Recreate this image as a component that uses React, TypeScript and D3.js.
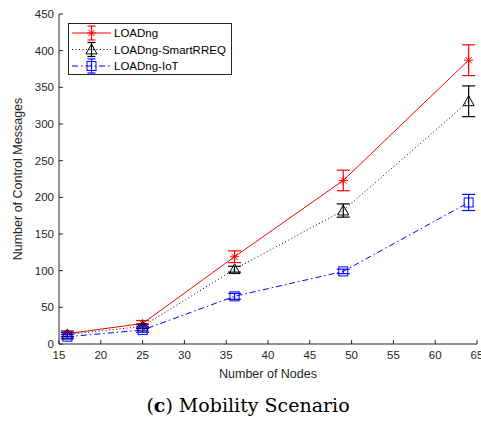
import React from 'react'
import * as d3 from 'd3'

const nodes = [16, 25, 36, 49, 64]
const loadng = [14, 28, 119, 223, 387]
const loadngErr = [4, 4, 8, 14, 21]
const smart = [13, 24, 102, 182, 331]
const smartErr = [3, 3, 4, 9, 21]
const iot = [10, 19, 65, 99, 193]
const iotErr = [3, 3, 4, 3, 11]

const xTicks = [15, 20, 25, 30, 35, 40, 45, 50, 55, 60, 65]
const yTicks = [0, 50, 100, 150, 200, 250, 300, 350, 400, 450]

const series = [
  { name: 'LOADng', values: loadng, err: loadngErr, color: '#ff0000', dash: '', marker: 'star' },
  { name: 'LOADng-SmartRREQ', values: smart, err: smartErr, color: '#000000', dash: '1,2.5', marker: 'tri' },
  { name: 'LOADng-IoT', values: iot, err: iotErr, color: '#0000ff', dash: '6,3,1.5,3', marker: 'sq' },
]

const font = 'Liberation Sans, Arial, Helvetica, sans-serif'

const Marker = ({ type, x, y, color }: { type: string; x: number; y: number; color: string }) => {
  if (type === 'star') {
    const r = 4.5
    return (
      <g stroke={color} strokeWidth={1}>
        <line x1={x - r} y1={y} x2={x + r} y2={y} />
        <line x1={x} y1={y - r} x2={x} y2={y + r} />
        <line x1={x - r * 0.7} y1={y - r * 0.7} x2={x + r * 0.7} y2={y + r * 0.7} />
        <line x1={x - r * 0.7} y1={y + r * 0.7} x2={x + r * 0.7} y2={y - r * 0.7} />
      </g>
    )
  }
  if (type === 'tri') {
    const r = 5.5
    return <path d={`M${x},${y - r}L${x + r},${y + r * 0.8}L${x - r},${y + r * 0.8}Z`} fill="none" stroke={color} strokeWidth={1} />
  }
  const r = 4.5
  return <rect x={x - r} y={y - r} width={2 * r} height={2 * r} fill="none" stroke={color} strokeWidth={1} />
}

const App = () => {
  const width = 481
  const height = 421
  const left = 59
  const right = 477
  const top = 14
  const bottom = 344

  const x = d3.scaleLinear().domain([15, 65]).range([left, right])
  const y = d3.scaleLinear().domain([0, 450]).range([bottom, top])
  const line = d3
    .line<number>()
    .x((_, i) => x(nodes[i]))
    .y((d) => y(d))

  const cap = 6.5

  return (
    <svg width={width} height={height} style={{ position: 'absolute', left: 0, top: 0 }}>
      <rect width={width} height={height} fill="#fff" />
      {/* axes */}
      <g stroke="#262626" strokeWidth={1} fill="none">
        <line x1={left} y1={bottom} x2={right} y2={bottom} />
        <line x1={left} y1={bottom} x2={left} y2={top} />
        {xTicks.map((t) => (
          <line key={t} x1={x(t)} y1={bottom} x2={x(t)} y2={bottom - 4} />
        ))}
        {yTicks.map((t) => (
          <line key={t} x1={left} y1={y(t)} x2={left + 4} y2={y(t)} />
        ))}
      </g>
      <g fontFamily={font} fontSize={11.5} fill="#262626">
        {xTicks.map((t) => (
          <text key={t} x={x(t)} y={bottom + 15} textAnchor="middle">
            {t}
          </text>
        ))}
        {yTicks.map((t) => (
          <text key={t} x={left - 5} y={y(t) + 4} textAnchor="end">
            {t}
          </text>
        ))}
        <text x={(left + right) / 2} y={bottom + 34} textAnchor="middle" fontSize={12.5}>
          Number of Nodes
        </text>
        <text transform={`translate(22,${(top + bottom) / 2}) rotate(-90)`} textAnchor="middle" fontSize={12.5}>
          Number of Control Messages
        </text>
      </g>

      {series.map((s) => (
        <g key={s.name}>
          <path d={line(s.values) || ''} fill="none" stroke={s.color} strokeWidth={1} strokeDasharray={s.dash} />
          {s.values.map((v, i) => {
            const cx = x(nodes[i])
            const hi = y(v + s.err[i])
            const lo = y(v - s.err[i])
            return (
              <g key={i}>
                <g stroke={s.color} strokeWidth={1.2}>
                  <line x1={cx} y1={hi} x2={cx} y2={lo} />
                  <line x1={cx - cap} y1={hi} x2={cx + cap} y2={hi} />
                  <line x1={cx - cap} y1={lo} x2={cx + cap} y2={lo} />
                </g>
                <Marker type={s.marker} x={cx} y={y(v)} color={s.color} />
              </g>
            )
          })}
        </g>
      ))}

      {/* legend */}
      <g>
        <rect x={68.5} y={23.5} width={163} height={51} fill="#fff" stroke="#262626" strokeWidth={1} />
        {series.map((s, i) => {
          const ly = 33 + i * 16.5
          return (
            <g key={s.name}>
              <line x1={72} y1={ly} x2={111} y2={ly} stroke={s.color} strokeWidth={1} strokeDasharray={s.dash} />
              <g stroke={s.color} strokeWidth={1.2}>
                <line x1={91.5} y1={ly - 7} x2={91.5} y2={ly + 7} />
                <line x1={87.5} y1={ly - 7} x2={95.5} y2={ly - 7} />
                <line x1={87.5} y1={ly + 7} x2={95.5} y2={ly + 7} />
              </g>
              <Marker type={s.marker} x={91.5} y={ly} color={s.color} />
              <text x={114} y={ly + 4} fontFamily={font} fontSize={11.5} fill="#000">
                {s.name}
              </text>
            </g>
          )
        })}
      </g>

      {/* caption */}
      <text x={248} y={412} textAnchor="middle" fontFamily="DejaVu Serif, Liberation Serif, serif" fontSize={19} fill="#000">
        (<tspan fontWeight="bold">c</tspan>) Mobility Scenario
      </text>
    </svg>
  )
}

export default App
